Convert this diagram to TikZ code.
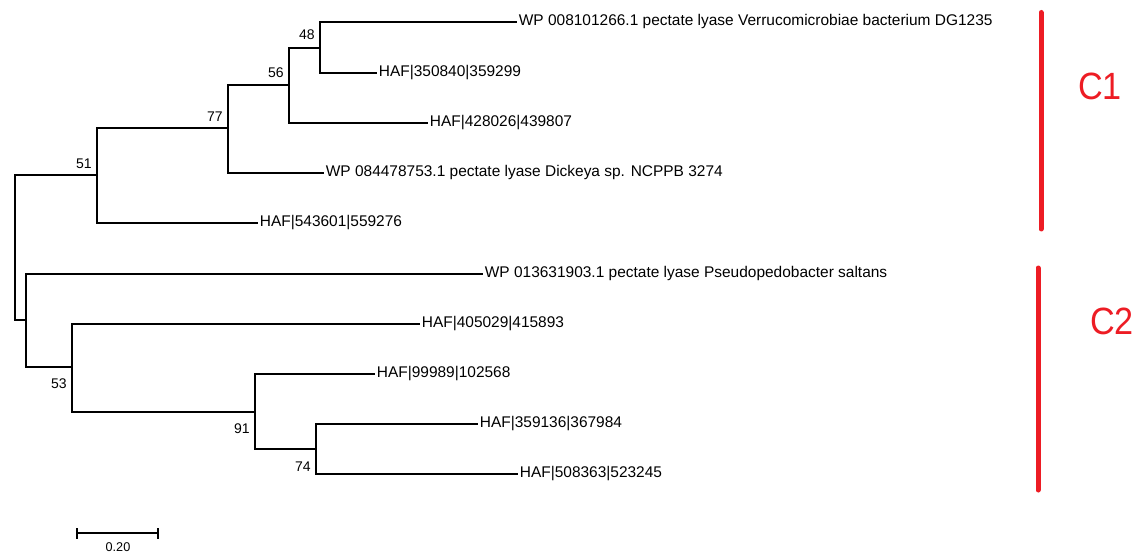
\documentclass[tikz,border=0pt]{standalone}
\usepackage{fontspec}
\setmainfont{Liberation Sans}
\usepackage{graphicx}
\definecolor{cladered}{HTML}{ED1C24}
\begin{document}
\begin{tikzpicture}[x=0.75pt,y=-0.75pt,
  branch/.style={line width=0.85pt, black},
  leaf/.style={anchor=west, inner xsep=1.2pt, inner ysep=0pt, text height=5.25pt, text depth=0pt, font=\fontsize{11.6}{12}\selectfont},
  boot/.style={inner sep=0pt, anchor=base east, font=\fontsize{10.5}{12}\selectfont},
  clade/.style={line width=3.75pt, cladered, line cap=round},
  cladelab/.style={text=cladered, inner sep=0pt, font=\fontsize{28.5}{30}\selectfont}]
\useasboundingbox (0,0) rectangle (1141,552);
% internal nodes
\coordinate (root) at (15,247.5);
\coordinate (n51) at (97,175);
\coordinate (n77) at (228,128);
\coordinate (n56) at (289,85);
\coordinate (n48) at (320,48);
\coordinate (nB) at (26,320);
\coordinate (n53) at (72,367);
\coordinate (n91) at (255,412);
\coordinate (n74) at (316,449);
% leaves
\node[leaf] (L1) at (517,22) {WP 008101266.1 pectate lyase Verrucomicrobiae bacterium DG1235};
\node[leaf] (L2) at (377,73) {HAF|350840|359299};
\node[leaf] (L3) at (428,123) {HAF|428026|439807};
\node[leaf] (L4) at (324,173) {WP 084478753.1 pectate lyase Dickeya sp. NCPPB 3274};
\node[leaf] (L5) at (258,223) {HAF|543601|559276};
\node[leaf] (L6) at (483,274) {WP 013631903.1 pectate lyase Pseudopedobacter saltans};
\node[leaf] (L7) at (420,324) {HAF|405029|415893};
\node[leaf] (L8) at (375,374) {HAF|99989|102568};
\node[leaf] (L9) at (478,424) {HAF|359136|367984};
\node[leaf] (L10) at (518,474) {HAF|508363|523245};
% branches
\draw[branch] (root) |- (n51);
\draw[branch] (root) |- (nB);
\draw[branch] (n51) |- (n77);
\draw[branch] (n51) |- (L5.west);
\draw[branch] (n77) |- (n56);
\draw[branch] (n77) |- (L4.west);
\draw[branch] (n56) |- (n48);
\draw[branch] (n56) |- (L3.west);
\draw[branch] (n48) |- (L1.west);
\draw[branch] (n48) |- (L2.west);
\draw[branch] (nB) |- (L6.west);
\draw[branch] (nB) |- (n53);
\draw[branch] (n53) |- (L7.west);
\draw[branch] (n53) |- (n91);
\draw[branch] (n91) |- (L8.west);
\draw[branch] (n91) |- (n74);
\draw[branch] (n74) |- (L9.west);
\draw[branch] (n74) |- (L10.west);
% bootstrap values
\node[boot] (b48) at ([shift={(-5,-8)}]n48) {48};
\node[boot] (b56) at ([shift={(-5,-7)}]n56) {56};
\node[boot] (b77) at ([shift={(-5,-6)}]n77) {77};
\node[boot] (b51) at ([shift={(-5,-6)}]n51) {51};
\node[boot] (b53) at ([shift={(-5,21)}]n53) {53};
\node[boot] (b91) at ([shift={(-5,21)}]n91) {91};
\node[boot] (b74) at ([shift={(-5,22)}]n74) {74};
% scale bar
\coordinate (s1) at (77,533);
\coordinate (s2) at (158,533);
\draw[branch] (s1) -- (s2);
\draw[branch] ([yshift=3.5pt]s1) -- ([yshift=-4.5pt]s1);
\draw[branch] ([yshift=3.5pt]s2) -- ([yshift=-4.5pt]s2);
\node[inner sep=0pt, anchor=base, font=\fontsize{9.5}{11}\selectfont] (sl) at (118,551) {0.20};
% clades
\draw[clade] (1041,12.5) -- (1041,229);
\draw[clade] (1038,268) -- (1038,490);
\node[cladelab] (c1) at (1100,86) {\scalebox{0.9}[1]{C1}};
\node[cladelab] (c2) at (1112,321) {\scalebox{0.9}[1]{C2}};
\end{tikzpicture}
\end{document}
